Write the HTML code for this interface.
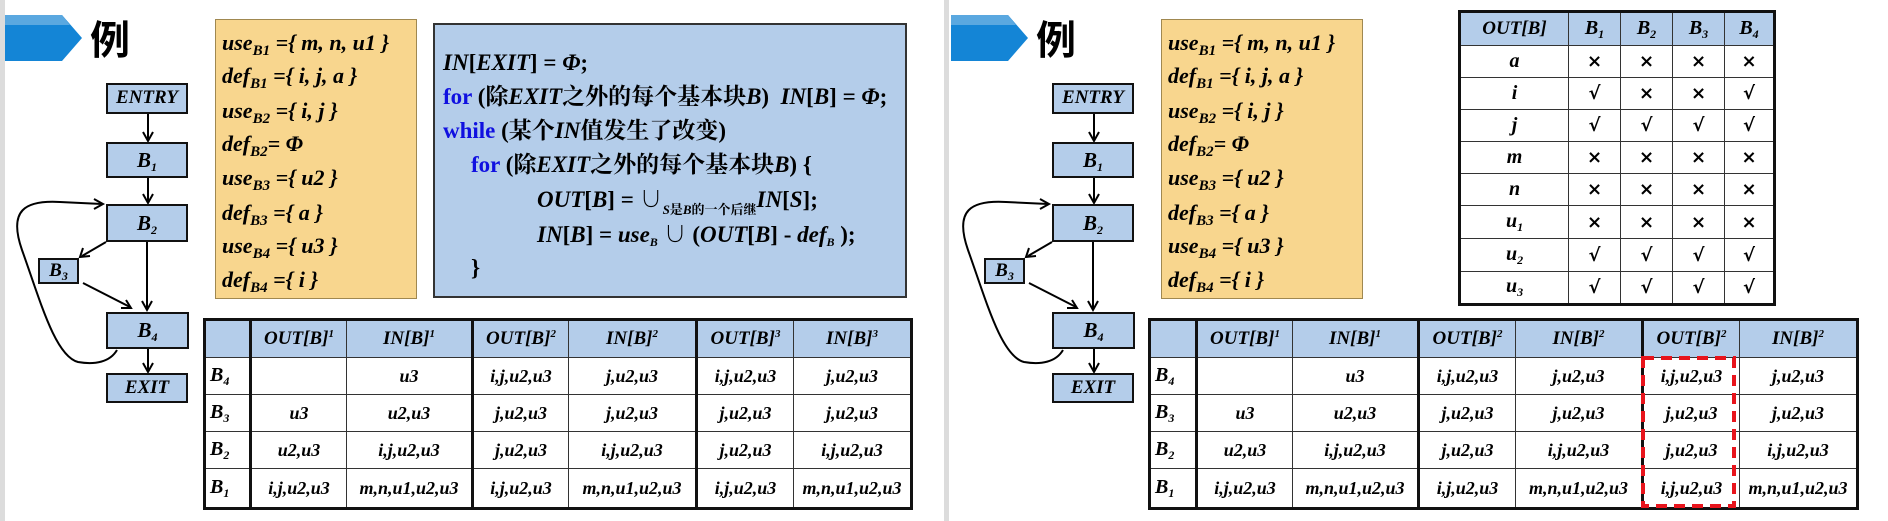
<!DOCTYPE html>
<html><head><meta charset="utf-8"><style>
*{margin:0;padding:0;box-sizing:border-box}
body{width:1888px;height:521px;background:#fff;position:relative;overflow:hidden;font-family:"Liberation Serif","Noto Serif CJK SC",serif}
.a{position:absolute}
.strip{top:0;width:5px;height:521px;background:#dcdcdc}
.yb{background:#f8d68e;border:1px solid #a08850}
.yb div{position:absolute;left:6px;font:bold italic 22px "Liberation Serif",serif;white-space:nowrap;line-height:1}
.yb sub{font-size:15px;vertical-align:-5px}
.bb{background:#b4cdea;border:2px solid #333}
.bb div{position:absolute;font:bold 23px "Liberation Serif","Noto Serif CJK SC",serif;white-space:nowrap;line-height:1}
.bb i{font-style:italic}
.kw{color:#1010e0}
table{border-collapse:collapse;position:absolute;table-layout:fixed}
td{border:1.5px solid #333;text-align:center;font:bold italic 18px "Liberation Serif",serif;white-space:nowrap;overflow:hidden;padding:0}
tr.h td{background:#b4cdea;font-size:19px}
td.L{text-align:left;padding-left:4px;font-size:20px}
td.g{border-left:3.5px solid #111}
sub{font-size:12px;vertical-align:-4px}
sup{font-size:11px;vertical-align:7px}
.ox td{font-style:normal;font-family:"DejaVu Sans",sans-serif;font-weight:bold;font-size:18px}
.ox td:first-child{font:bold italic 20px "Liberation Serif",serif}
.nd{position:absolute;background:#b4cdea;border:2.5px solid #111;text-align:center;font:bold italic 21px 'Liberation Serif',serif}
</style></head><body>

<!-- LEFT PANEL -->
<div class="a strip" style="left:0"></div>
<svg class="a" style="left:0;top:0" width="944" height="521">
<polygon points="5,15 62,15 82,38 62,61 5,61" fill="#1485d6"/>
<polygon points="5,15 62,15 70,25 5,25" fill="#5aa8e0"/>
<g stroke="#000" stroke-width="2" fill="none">
<line x1="148" y1="114" x2="148" y2="140"/><polyline points="143,132 148,141 153,132"/>
<line x1="148" y1="178" x2="148" y2="202"/><polyline points="143,194 148,203 153,194"/>
<line x1="147" y1="242" x2="147" y2="310"/><polyline points="142,301 147,310 152,301"/>
<line x1="148" y1="349" x2="148" y2="371"/><polyline points="143,363 148,372 153,363"/>
<line x1="106" y1="242" x2="82" y2="256"/><polyline points="83,248 80,257 90,256"/>
<line x1="83" y1="283" x2="130" y2="307"/><polyline points="121,308 131,308 126,300"/>
<path d="M117,350 C110,362 95,365 78,362 C55,356 40,300 22,250 C8,210 25,200 60,202 L102,204"/>
<polyline points="94,199 103,204 94,209"/>
</g>
</svg>
<div class="a" style="left:90px;top:17px;font:bold 40px 'Noto Sans CJK SC',sans-serif;line-height:1">例</div>
<div class="nd" style="left:106px;top:83px;width:82px;height:31px;font-size:19px;line-height:26px">ENTRY</div>
<div class="nd" style="left:106px;top:142px;width:82px;height:36px;line-height:32px">B<sub>1</sub></div>
<div class="nd" style="left:106px;top:204px;width:82px;height:38px;line-height:34px">B<sub>2</sub></div>
<div class="nd" style="left:38px;top:258px;width:41px;height:26px;font-size:19px;line-height:22px">B<sub>3</sub></div>
<div class="nd" style="left:106px;top:312px;width:83px;height:37px;line-height:33px">B<sub>4</sub></div>
<div class="nd" style="left:106px;top:373px;width:82px;height:30px;font-size:19px;line-height:26px">EXIT</div>

<div class="a yb" style="left:215px;top:19px;width:202px;height:280px">
<div style="top:12px">use<sub>B1</sub> ={ m, n, u1 }</div>
<div style="top:45px">def<sub>B1</sub> ={ i, j, a }</div>
<div style="top:80px">use<sub>B2</sub> ={ i, j }</div>
<div style="top:113px">def<sub>B2</sub>= Φ</div>
<div style="top:147px">use<sub>B3</sub> ={ u2 }</div>
<div style="top:182px">def<sub>B3</sub> ={ a }</div>
<div style="top:215px">use<sub>B4</sub> ={ u3 }</div>
<div style="top:249px">def<sub>B4</sub> ={ i }</div>
</div>

<div class="a bb" style="left:433px;top:23px;width:474px;height:275px">
<div style="left:8px;top:26px"><i>IN</i>[<i>EXIT</i>] = <i>Φ</i>;</div>
<div style="left:8px;top:60px"><span class="kw">for</span> (除<i>EXIT</i>之外的每个基本块<i>B</i>)&nbsp; <i>IN</i>[<i>B</i>] = <i>Φ</i>;</div>
<div style="left:8px;top:94px"><span class="kw">while</span> (某个<i>IN</i>值发生了改变)</div>
<div style="left:36px;top:128px"><span class="kw">for</span> (除<i>EXIT</i>之外的每个基本块<i>B</i>) {</div>
<div style="left:102px;top:163px"><i>OUT</i>[<i>B</i>] = ∪<span style="font-size:13px;vertical-align:-7px"><i>S</i>是<i>B</i>的一个后继</span><i>IN</i>[<i>S</i>];</div>
<div style="left:102px;top:198px"><i>IN</i>[<i>B</i>] = <i>use<sub>B</sub></i> ∪ (<i>OUT</i>[<i>B</i>] - <i>def<sub>B</sub></i> );</div>
<div style="left:36px;top:231px">}</div>
</div>

<table style="left:203px;top:318px;width:707px;border:3.5px solid #111">
<colgroup><col style="width:46px"><col style="width:96px"><col style="width:126px"><col style="width:96px"><col style="width:128px"><col style="width:97px"><col style="width:118px"></colgroup>
<tr class="h" style="height:38px"><td></td><td class="g">OUT[B]<sup>1</sup></td><td>IN[B]<sup>1</sup></td><td class="g">OUT[B]<sup>2</sup></td><td>IN[B]<sup>2</sup></td><td class="g">OUT[B]<sup>3</sup></td><td>IN[B]<sup>3</sup></td></tr>
<tr style="height:37px"><td class="L">B<sub>4</sub></td><td class="g"></td><td>u3</td><td class="g">i,j,u2,u3</td><td>j,u2,u3</td><td class="g">i,j,u2,u3</td><td>j,u2,u3</td></tr>
<tr style="height:37px"><td class="L">B<sub>3</sub></td><td class="g">u3</td><td>u2,u3</td><td class="g">j,u2,u3</td><td>j,u2,u3</td><td class="g">j,u2,u3</td><td>j,u2,u3</td></tr>
<tr style="height:37px"><td class="L">B<sub>2</sub></td><td class="g">u2,u3</td><td>i,j,u2,u3</td><td class="g">j,u2,u3</td><td>i,j,u2,u3</td><td class="g">j,u2,u3</td><td>i,j,u2,u3</td></tr>
<tr style="height:40px"><td class="L">B<sub>1</sub></td><td class="g">i,j,u2,u3</td><td>m,n,u1,u2,u3</td><td class="g">i,j,u2,u3</td><td>m,n,u1,u2,u3</td><td class="g">i,j,u2,u3</td><td>m,n,u1,u2,u3</td></tr>
</table>

<!-- RIGHT PANEL -->
<div class="a strip" style="left:944px"></div>
<svg class="a" style="left:946px;top:0" width="942" height="521">
<polygon points="5,15 62,15 82,38 62,61 5,61" fill="#1485d6"/>
<polygon points="5,15 62,15 70,25 5,25" fill="#5aa8e0"/>
<g stroke="#000" stroke-width="2" fill="none">
<line x1="148" y1="114" x2="148" y2="140"/><polyline points="143,132 148,141 153,132"/>
<line x1="148" y1="178" x2="148" y2="202"/><polyline points="143,194 148,203 153,194"/>
<line x1="147" y1="242" x2="147" y2="310"/><polyline points="142,301 147,310 152,301"/>
<line x1="148" y1="349" x2="148" y2="371"/><polyline points="143,363 148,372 153,363"/>
<line x1="106" y1="242" x2="82" y2="256"/><polyline points="83,248 80,257 90,256"/>
<line x1="83" y1="283" x2="130" y2="307"/><polyline points="121,308 131,308 126,300"/>
<path d="M117,350 C110,362 95,365 78,362 C55,356 40,300 22,250 C8,210 25,200 60,202 L102,204"/>
<polyline points="94,199 103,204 94,209"/>
</g>
</svg>
<div class="a" style="left:1036px;top:17px;font:bold 40px 'Noto Sans CJK SC',sans-serif;line-height:1">例</div>
<div class="nd" style="left:1052px;top:83px;width:82px;height:31px;font-size:19px;line-height:26px">ENTRY</div>
<div class="nd" style="left:1052px;top:142px;width:82px;height:36px;line-height:32px">B<sub>1</sub></div>
<div class="nd" style="left:1052px;top:204px;width:82px;height:38px;line-height:34px">B<sub>2</sub></div>
<div class="nd" style="left:984px;top:258px;width:41px;height:26px;font-size:19px;line-height:22px">B<sub>3</sub></div>
<div class="nd" style="left:1052px;top:312px;width:83px;height:37px;line-height:33px">B<sub>4</sub></div>
<div class="nd" style="left:1052px;top:373px;width:82px;height:30px;font-size:19px;line-height:26px">EXIT</div>

<div class="a yb" style="left:1161px;top:19px;width:202px;height:280px">
<div style="top:12px">use<sub>B1</sub> ={ m, n, u1 }</div>
<div style="top:45px">def<sub>B1</sub> ={ i, j, a }</div>
<div style="top:80px">use<sub>B2</sub> ={ i, j }</div>
<div style="top:113px">def<sub>B2</sub>= Φ</div>
<div style="top:147px">use<sub>B3</sub> ={ u2 }</div>
<div style="top:182px">def<sub>B3</sub> ={ a }</div>
<div style="top:215px">use<sub>B4</sub> ={ u3 }</div>
<div style="top:249px">def<sub>B4</sub> ={ i }</div>
</div>

<table class="ox" style="left:1458px;top:10px;width:315px;border:3px solid #111">
<colgroup><col style="width:109px"><col style="width:52px"><col style="width:52px"><col style="width:52px"><col style="width:50px"></colgroup>
<tr class="h" style="height:34px"><td style="font:bold italic 19px 'Liberation Serif',serif">OUT[B]</td><td style="font:bold italic 20px 'Liberation Serif',serif">B<sub>1</sub></td><td style="font:bold italic 20px 'Liberation Serif',serif">B<sub>2</sub></td><td style="font:bold italic 20px 'Liberation Serif',serif">B<sub>3</sub></td><td style="font:bold italic 20px 'Liberation Serif',serif">B<sub>4</sub></td></tr>
<tr style="height:32px"><td>a</td><td>×</td><td>×</td><td>×</td><td>×</td></tr>
<tr style="height:32px"><td>i</td><td>√</td><td>×</td><td>×</td><td>√</td></tr>
<tr style="height:32px"><td>j</td><td>√</td><td>√</td><td>√</td><td>√</td></tr>
<tr style="height:32px"><td>m</td><td>×</td><td>×</td><td>×</td><td>×</td></tr>
<tr style="height:32px"><td>n</td><td>×</td><td>×</td><td>×</td><td>×</td></tr>
<tr style="height:33px"><td>u<sub>1</sub></td><td>×</td><td>×</td><td>×</td><td>×</td></tr>
<tr style="height:33px"><td>u<sub>2</sub></td><td>√</td><td>√</td><td>√</td><td>√</td></tr>
<tr style="height:33px"><td>u<sub>3</sub></td><td>√</td><td>√</td><td>√</td><td>√</td></tr>
</table>

<table style="left:1148px;top:318px;width:708px;border:3.5px solid #111">
<colgroup><col style="width:47px"><col style="width:96px"><col style="width:126px"><col style="width:97px"><col style="width:127px"><col style="width:97px"><col style="width:118px"></colgroup>
<tr class="h" style="height:38px"><td></td><td class="g">OUT[B]<sup>1</sup></td><td>IN[B]<sup>1</sup></td><td class="g">OUT[B]<sup>2</sup></td><td>IN[B]<sup>2</sup></td><td class="g">OUT[B]<sup>2</sup></td><td>IN[B]<sup>2</sup></td></tr>
<tr style="height:37px"><td class="L">B<sub>4</sub></td><td class="g"></td><td>u3</td><td class="g">i,j,u2,u3</td><td>j,u2,u3</td><td class="g">i,j,u2,u3</td><td>j,u2,u3</td></tr>
<tr style="height:37px"><td class="L">B<sub>3</sub></td><td class="g">u3</td><td>u2,u3</td><td class="g">j,u2,u3</td><td>j,u2,u3</td><td class="g">j,u2,u3</td><td>j,u2,u3</td></tr>
<tr style="height:37px"><td class="L">B<sub>2</sub></td><td class="g">u2,u3</td><td>i,j,u2,u3</td><td class="g">j,u2,u3</td><td>i,j,u2,u3</td><td class="g">j,u2,u3</td><td>i,j,u2,u3</td></tr>
<tr style="height:40px"><td class="L">B<sub>1</sub></td><td class="g">i,j,u2,u3</td><td>m,n,u1,u2,u3</td><td class="g">i,j,u2,u3</td><td>m,n,u1,u2,u3</td><td class="g">i,j,u2,u3</td><td>m,n,u1,u2,u3</td></tr>
</table>
<svg class="a" style="left:1640px;top:355px" width="100" height="156">
<rect x="3" y="3" width="91" height="148" fill="none" stroke="#e8141c" stroke-width="4" stroke-dasharray="11,7"/>
</svg>
</body></html>
